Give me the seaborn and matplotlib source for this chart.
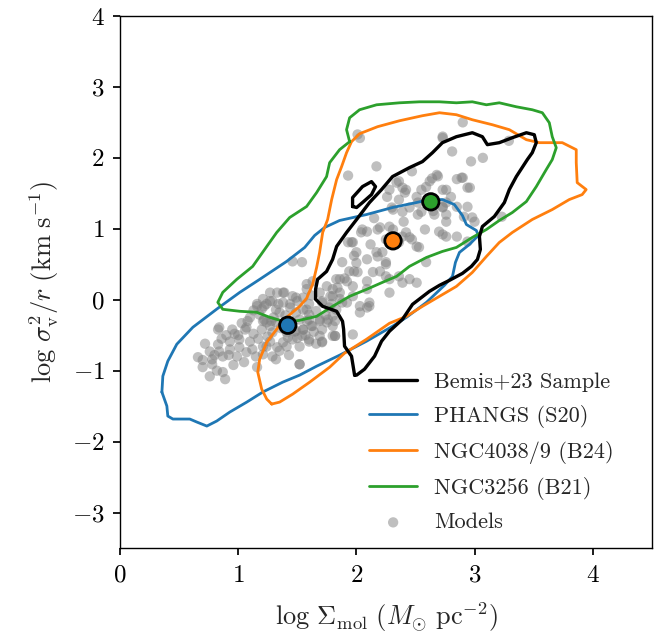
import numpy as np
import pandas as pd
import matplotlib
matplotlib.use("Agg")
import matplotlib.pyplot as plt
import seaborn as sns

# ---------------- data ----------------
# Bemis+23 sample contour (main loop + small island)
bemis_x = [1.985, 1.959, 1.900, 1.892, 1.883, 1.833, 1.715, 1.655, 1.655, 1.672, 1.748, 1.799, 1.833,
           1.917, 2.002, 2.111, 2.213, 2.306, 2.449, 2.559, 2.644, 2.728, 2.846, 2.981, 3.066, 3.108,
           3.209, 3.319, 3.438, 3.505, 3.522, 3.488, 3.446, 3.353, 3.294, 3.252, 3.167, 3.066, 3.041,
           3.049, 3.024, 2.973, 2.897, 2.787, 2.703, 2.618, 2.475, 2.390, 2.280, 2.213, 2.154, 2.069,
           2.002, 1.985]
bemis_y = [-1.063, -0.796, -0.655, -0.416, -0.304, -0.163, -0.093, 0.006, 0.146, 0.287, 0.399, 0.568,
           0.751, 0.948, 1.131, 1.370, 1.553, 1.736, 1.862, 1.947, 2.073, 2.214, 2.298, 2.354, 2.298,
           2.186, 2.214, 2.284, 2.354, 2.326, 2.214, 2.073, 1.975, 1.736, 1.553, 1.370, 1.173, 1.032,
           0.892, 0.709, 0.568, 0.470, 0.371, 0.273, 0.203, 0.118, -0.065, -0.276, -0.444, -0.585,
           -0.796, -0.979, -1.063, -1.063]
bemis_island_x = [1.968, 1.968, 2.052, 2.128, 2.162, 2.128, 2.052, 2.002, 1.968]
bemis_island_y = [1.314, 1.440, 1.595, 1.665, 1.595, 1.482, 1.370, 1.300, 1.314]

# PHANGS (S20) contour
phangs_x = [0.355, 0.363, 0.405, 0.481, 0.617, 0.828, 1.014, 1.182, 1.410, 1.563, 1.647, 1.731, 1.858,
            2.086, 2.306, 2.508, 2.618, 2.728, 2.829, 2.897, 2.931, 3.015, 3.032, 2.956, 2.872, 2.838,
            2.813, 2.745, 2.593, 2.424, 2.306, 2.086, 1.858, 1.664, 1.520, 1.377, 1.208, 1.073, 0.929,
            0.819, 0.735, 0.650, 0.591, 0.448, 0.405, 0.397, 0.355]
phangs_y = [-1.302, -1.077, -0.866, -0.627, -0.388, -0.121, 0.104, 0.287, 0.540, 0.737, 0.906, 1.018,
            1.117, 1.201, 1.300, 1.370, 1.412, 1.412, 1.342, 1.187, 1.060, 0.976, 0.906, 0.779, 0.667,
            0.526, 0.329, 0.203, -0.037, -0.248, -0.374, -0.585, -0.782, -0.937, -1.063, -1.162, -1.302,
            -1.443, -1.584, -1.710, -1.781, -1.724, -1.682, -1.682, -1.640, -1.499, -1.302]

# NGC4038/9 (B24) contour
antennae_x = [1.284, 1.242, 1.199, 1.166, 1.182, 1.242, 1.326, 1.410, 1.520, 1.579, 1.630, 1.664, 1.689,
              1.715, 1.757, 1.791, 1.833, 1.875, 1.917, 1.959, 2.027, 2.179, 2.365, 2.559, 2.703, 2.846,
              2.981, 3.150, 3.294, 3.438, 3.547, 3.742, 3.860, 3.860, 3.868, 3.944, 3.910, 3.801, 3.657,
              3.488, 3.319, 3.209, 3.100, 2.981, 2.846, 2.703, 2.559, 2.424, 2.280, 2.086, 1.900, 1.774,
              1.605, 1.461, 1.351, 1.284]
antennae_y = [-1.471, -1.401, -1.260, -1.021, -0.838, -0.599, -0.416, -0.248, -0.093, 0.020, 0.217,
              0.456, 0.667, 0.948, 1.131, 1.412, 1.693, 1.876, 2.073, 2.228, 2.340, 2.439, 2.523, 2.594,
              2.636, 2.608, 2.537, 2.467, 2.397, 2.256, 2.214, 2.214, 2.115, 1.932, 1.651, 1.553, 1.482,
              1.412, 1.271, 1.131, 0.948, 0.807, 0.610, 0.385, 0.188, 0.048, -0.093, -0.234, -0.332,
              -0.557, -0.754, -0.951, -1.162, -1.331, -1.443, -1.471]

# NGC3256 (B21) contour
ngc3256_x = [1.943, 1.917, 1.943, 2.027, 2.171, 2.365, 2.534, 2.703, 2.846, 2.981, 3.100, 3.209, 3.353,
             3.488, 3.573, 3.632, 3.657, 3.691, 3.657, 3.606, 3.522, 3.438, 3.319, 3.209, 3.100, 2.981,
             2.846, 2.728, 2.593, 2.449, 2.340, 2.221, 2.086, 1.943, 1.799, 1.664, 1.520, 1.410, 1.267,
             1.157, 1.014, 0.870, 0.828, 0.870, 0.988, 1.123, 1.242, 1.326, 1.436, 1.579, 1.664, 1.748,
             1.774, 1.858, 1.943]
ngc3256_y = [2.228, 2.397, 2.565, 2.678, 2.748, 2.776, 2.790, 2.790, 2.776, 2.790, 2.748, 2.776, 2.720,
             2.678, 2.636, 2.495, 2.298, 2.143, 1.975, 1.834, 1.595, 1.384, 1.229, 1.117, 0.990, 0.878,
             0.737, 0.681, 0.596, 0.470, 0.329, 0.245, 0.146, 0.048, -0.093, -0.234, -0.290, -0.318,
             -0.248, -0.177, -0.163, -0.135, -0.037, 0.104, 0.287, 0.470, 0.751, 0.948, 1.159, 1.314,
             1.511, 1.736, 1.932, 2.115, 2.228]

# Model points
models_x = [0.66, 0.76, 0.84, 0.93, 1.01, 0.78, 0.87, 0.99, 1.07, 1.21, 1.29, 1.41, 1.52, 1.60, 1.71,
            1.82, 1.97, 0.78, 0.76, 0.87, 0.89, 1.16, 1.52, 1.32, 1.41, 1.46, 1.50,
            0.83, 0.95, 1.06, 1.01, 1.10, 0.93, 0.83, 1.10, 1.21, 1.27, 1.20, 1.29, 1.55, 1.63, 1.71,
            1.80, 1.69, 1.60, 1.27, 1.38, 1.49, 1.58, 1.16, 1.24, 1.32, 1.44, 1.55, 1.66, 1.77, 2.03,
            2.11, 0.84, 1.07, 1.21, 1.29, 1.38, 1.16, 1.18, 1.35, 1.49, 1.24, 1.32, 1.08, 1.00, 0.90,
            0.70, 0.80, 0.92, 1.12,
            1.46, 1.54, 1.86, 1.92, 1.84, 1.33, 1.39, 1.46, 1.55, 1.27, 1.22, 1.34, 1.44, 1.60, 1.71,
            1.79, 1.86, 1.22, 1.28, 1.52, 1.58, 1.69, 1.76, 1.82, 1.49, 1.54, 1.62, 1.42, 1.38, 1.27,
            1.24, 1.33, 1.60, 1.71, 1.82, 1.52, 1.21,
            1.93, 2.09, 2.18, 2.00, 1.88, 2.09, 2.22, 2.25, 1.94, 2.01, 2.14, 1.83, 1.75, 1.69, 1.63,
            1.58, 1.80, 1.86, 1.97, 2.09, 2.09, 2.25, 2.36, 2.45, 1.92, 2.03, 2.09, 1.71, 1.83,
            2.90, 2.73, 2.81, 2.97, 3.07, 3.29, 2.17, 1.93, 2.47, 2.64, 2.68, 2.85, 2.90, 2.96, 2.59,
            2.76, 2.42, 2.26, 2.36, 2.52, 2.76, 2.85, 2.91, 2.98, 2.76, 3.23, 2.39, 2.52, 2.20, 2.31,
            2.42, 2.58, 2.73, 2.85, 2.04, 1.97, 2.18, 2.25, 2.36, 2.45, 2.51, 2.59, 1.98, 2.20, 2.28,
            2.39, 2.51, 2.28, 1.80, 1.97, 2.11, 1.88, 1.80, 1.58, 1.60, 1.75, 1.55, 1.69, 1.80,
            2.01, 2.34, 2.41, 2.28, 2.03, 2.36, 2.39, 2.62, 2.69, 2.73, 2.51, 2.55, 2.66, 2.73, 2.45,
            2.31, 2.28, 2.39, 2.47, 2.53, 2.17, 2.05, 1.96, 2.70, 2.76, 2.89, 2.94, 2.73, 2.94, 2.76,
            3.00, 2.94, 2.73,
            0.72, 0.86, 0.97, 1.03, 1.13, 1.17, 1.25, 1.36, 1.45, 1.48, 1.57, 1.64, 1.74, 1.66, 1.35,
            1.43, 1.15, 1.05, 0.96, 0.70, 0.82, 1.30, 1.40, 1.13, 1.20, 1.50, 1.62, 1.78, 1.90, 2.00,
            2.12, 2.25, 2.40, 2.60, 2.65, 2.80, 2.55, 2.30, 2.15, 1.98]
models_y = [-0.81, -0.73, -0.73, -0.70, -0.67, -0.84, -0.80, -0.80, -0.74, -0.66, -0.80, -0.66, -0.66,
            -0.56, -0.59, -0.51, -0.49, -0.91, -1.08, -1.02, -1.12, -0.95, -0.91, -0.84, -0.46, -0.56,
            -0.54, -0.42, -0.42, -0.42, -0.56, -0.59, -0.59, -0.63, -0.25, -0.30, -0.37, -0.42, -0.46,
            -0.42, -0.37, -0.42, -0.37, -0.28, -0.21, 0.10, 0.10, 0.03, 0.15, -0.06, -0.06, -0.14,
            -0.11, -0.14, -0.16, -0.11, -0.18, -0.09, -0.39, -0.39, 0.01, -0.02, -0.04, -0.09, -0.21,
            -0.18, -0.18, -0.32, -0.32, -0.30, -0.50, -0.50, -0.85, -0.78, -0.78, -0.70,
            0.54, 0.53, 0.29, 0.26, 0.17, 0.10, 0.10, 0.05, 0.03, -0.02, -0.09, -0.06, -0.06, -0.06,
            -0.02, -0.06, 0.01, -0.28, -0.30, -0.28, -0.30, -0.30, -0.28, -0.30, -0.44, -0.51, -0.37,
            -0.53, -0.60, -0.59, -0.66, -0.67, -0.59, -0.60, -0.51, -0.91, -0.77,
            0.81, 0.96, 0.99, 0.67, 0.53, 0.57, 0.67, 0.50, 0.40, 0.39, 0.39, 0.29, 0.19, 0.10, 0.26,
            0.22, 0.15, 0.10, 0.19, 0.26, 0.15, 0.33, 0.33, 0.29, -0.04, -0.09, -0.11, -0.04, -0.14,
            2.50, 2.30, 2.09, 1.95, 2.00, 2.24, 1.88, 1.75, 1.81, 1.71, 1.76, 1.70, 1.72, 1.58, 1.59,
            1.55, 1.55, 1.45, 1.41, 1.37, 1.37, 1.31, 1.17, 1.16, 1.20, 1.17, 1.24, 1.20, 1.02, 0.99,
            0.95, 0.99, 0.92, 0.89, 0.95, 0.81, 0.61, 0.53, 0.81, 0.88, 0.75, 0.53, 0.40, 0.40, 0.29,
            0.24, 0.24, 0.10, 0.05, 0.05, -0.04, -0.04, -0.23, -0.14, -0.28, -0.32, -0.42, -0.51, -0.51,
            2.33, 1.65, 1.51, 1.55, 2.28, 1.67, 1.58, 1.67, 1.74, 1.55, 1.45, 1.24, 1.20, 1.30, 1.30,
            1.27, 1.03, 0.89, 0.85, 0.74, 0.67, 0.99, 0.81, 0.96, 0.89, 1.72, 1.58, 1.31, 1.31, 1.10,
            1.10, 0.82, 2.28,
            -0.62, -0.55, -0.48, -0.33, -0.48, -0.55, -0.52, -0.40, -0.30, -0.45, -0.50, -0.45, -0.22,
            -0.62, -0.72, -0.78, -0.80, -0.88, -0.92, -0.95, -1.00, -0.25, -0.22, -0.15, -0.13, -0.02,
            0.06, 0.05, 0.30, 0.52, 0.78, 0.85, 1.10, 1.40, 1.25, 1.45, 1.55, 1.30, 1.15, 0.62]

# Median points of each comparison sample
med_names = ["PHANGS (S20)", "NGC4038/9 (B24)", "NGC3256 (B21)"]
med_x = [1.42, 2.31, 2.63]
med_y = [-0.36, 0.83, 1.38]

x_ticks = [0, 1, 2, 3, 4]
y_ticks = [-3, -2, -1, 0, 1, 2, 3, 4]

# ---------------- style ----------------
sns.set_theme(style="ticks")
plt.rcParams.update({
    "font.family": "serif",
    "font.serif": ["cmr10", "DejaVu Serif"],
    "mathtext.fontset": "cm",
    "axes.formatter.use_mathtext": True,
    "axes.unicode_minus": True,
    "axes.edgecolor": "black",
    "axes.linewidth": 1.0,
    "xtick.color": "black",
    "ytick.color": "black",
    "xtick.major.size": 5,
    "ytick.major.size": 5,
    "xtick.major.pad": 7,
    "ytick.major.pad": 6,
    "xtick.direction": "out",
    "ytick.direction": "out",
})

c_blue, c_orange, c_green = "#1f77b4", "#ff7f0e", "#2ca02c"

fig = plt.figure(figsize=(6.70, 6.39), dpi=100)
ax = fig.add_axes([0.179, 0.1424, 0.794, 0.8326])

# models
sns.scatterplot(x=models_x, y=models_y, color="#808080", alpha=0.5, s=55,
                edgecolor="none", linewidth=0, label="Models", ax=ax, zorder=2)

lw = 2.0
sns.lineplot(x=bemis_x, y=bemis_y, sort=False, estimator=None, color="black",
             lw=2.4, label="Bemis+23 Sample", ax=ax, zorder=5)
sns.lineplot(x=bemis_island_x, y=bemis_island_y, sort=False, estimator=None, color="black",
             lw=2.4, label="_nolegend_", ax=ax, zorder=5)
sns.lineplot(x=phangs_x, y=phangs_y, sort=False, estimator=None, color=c_blue,
             lw=lw, label="PHANGS (S20)", ax=ax, zorder=3)
sns.lineplot(x=antennae_x, y=antennae_y, sort=False, estimator=None, color=c_orange,
             lw=lw, label="NGC4038/9 (B24)", ax=ax, zorder=3)
sns.lineplot(x=ngc3256_x, y=ngc3256_y, sort=False, estimator=None, color=c_green,
             lw=lw, label="NGC3256 (B21)", ax=ax, zorder=3)

med_df = pd.DataFrame({"x": med_x, "y": med_y, "name": med_names})
sns.scatterplot(data=med_df, x="x", y="y", hue="name", palette=[c_blue, c_orange, c_green],
                s=140, edgecolor="black", linewidth=2, legend=False, ax=ax, zorder=6)

ax.set_xlim(0, 4.5)
ax.set_ylim(-3.5, 4)
ax.set_xticks(x_ticks)
ax.set_yticks(y_ticks)
ax.tick_params(labelsize=18)
for s in ax.spines.values():
    s.set_visible(True)
    s.set_color("black")

ax.set_xlabel(r"$\log\,\Sigma_{\rm mol}\ (M_{\odot}\ {\rm pc}^{-2})$", fontsize=19, labelpad=10)
ax.set_ylabel(r"$\log\,\sigma_{\rm v}^{2}/r\ ({\rm km\ s}^{-1})$", fontsize=19, labelpad=8)

handles, labels = ax.get_legend_handles_labels()
order = ["Bemis+23 Sample", "PHANGS (S20)", "NGC4038/9 (B24)", "NGC3256 (B21)", "Models"]
hmap = dict(zip(labels, handles))
ax.legend([hmap[k] for k in order], order, loc="lower right", bbox_to_anchor=(0.945, 0.013),
          borderaxespad=0, frameon=False, fontsize=16,
          handlelength=2.15, labelspacing=0.58, handletextpad=0.77)

fig.savefig("out.png", dpi=100)
